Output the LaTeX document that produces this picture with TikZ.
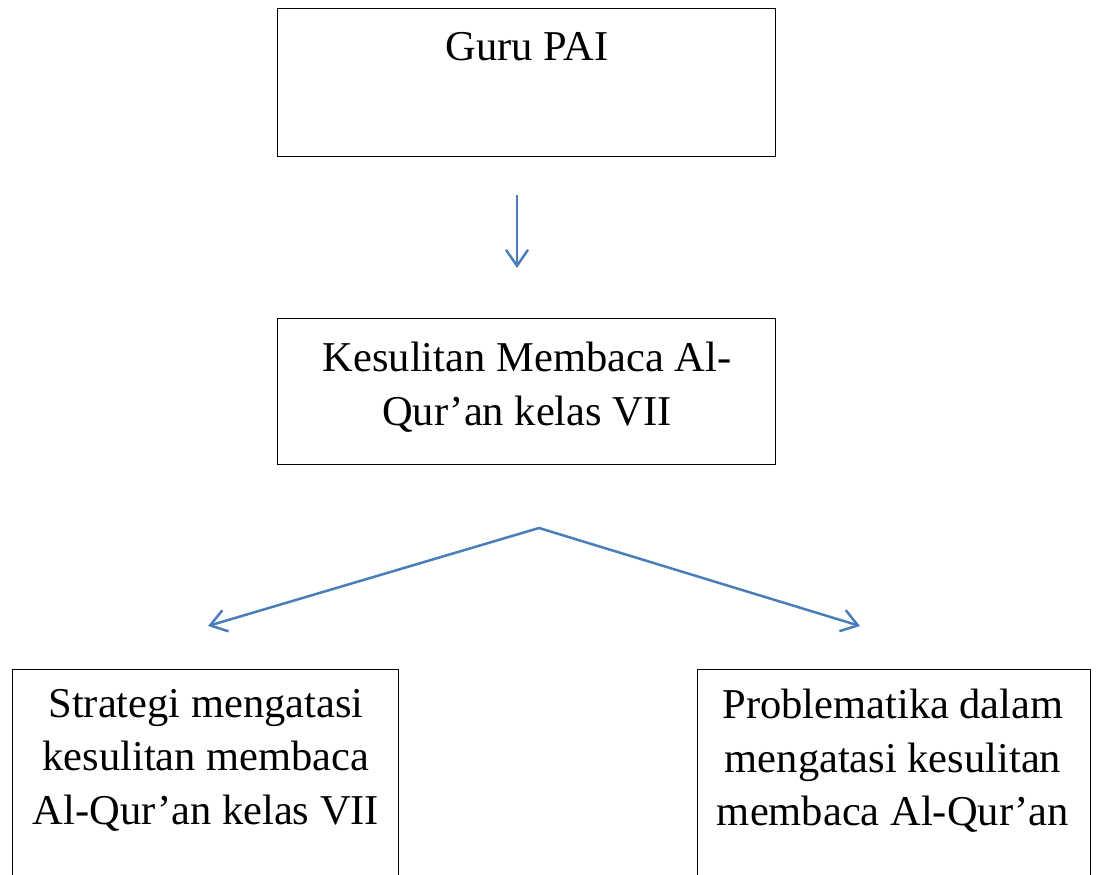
\documentclass[tikz,border=0pt]{standalone}
\usepackage{fontspec}
\setmainfont{Liberation Serif}
\usetikzlibrary{arrows.meta}
\definecolor{arrowblue}{HTML}{4A7EBB}
\tikzset{
  box/.style={draw=black, line width=1pt, rectangle, inner sep=0pt},
  label/.style={font=\fontsize{42.5pt}{53.5pt}\selectfont, align=center, inner sep=0pt, text=black},
  arr/.style={draw=arrowblue, line width=2.5pt, -{Straight Barb[length=16pt,width=22pt,line width=2.5pt]}}
}
\begin{document}
\begin{tikzpicture}[x=1pt,y=-1pt]
\useasboundingbox (0,0) rectangle (1098,875);
\clip (0,0) rectangle (1098,875);
% boxes
\node[box, minimum width=498pt, minimum height=147pt] (guru) at (526,82.5) {};
\node[box, minimum width=498pt, minimum height=146pt] (kesulitan) at (526,391) {};
\node[box, minimum width=386pt, minimum height=251pt] (strategi) at (205,794.5) {};
\node[box, minimum width=393pt, minimum height=251pt] (problem) at (893.5,794.5) {};
% texts
\node[label, anchor=base] (tguru) at (527,60) {Guru PAI};
\node[label, anchor=north] (tkes) at (527,342) {Kesulitan Membaca Al-\\Qur’an kelas VII};
\node[label, anchor=north] (tstr) at (206,689) {Strategi mengatasi\\kesulitan membaca\\Al-Qur’an kelas VII};
\node[label, anchor=north] (tprob) at (893,689) {Problematika dalam\\mengatasi kesulitan\\membaca Al-Qur’an};
% arrow coordinates
\coordinate (a1s) at (517,195);
\coordinate (a1e) at (517,268);
\coordinate (split) at (539,528);
\coordinate (leftend) at (208,626);
\coordinate (rightend) at (860,626);
\draw[arr] (a1s) -- (a1e);
\draw[arr] (split) -- (leftend);
\draw[arr] (split) -- (rightend);
\end{tikzpicture}
\end{document}
